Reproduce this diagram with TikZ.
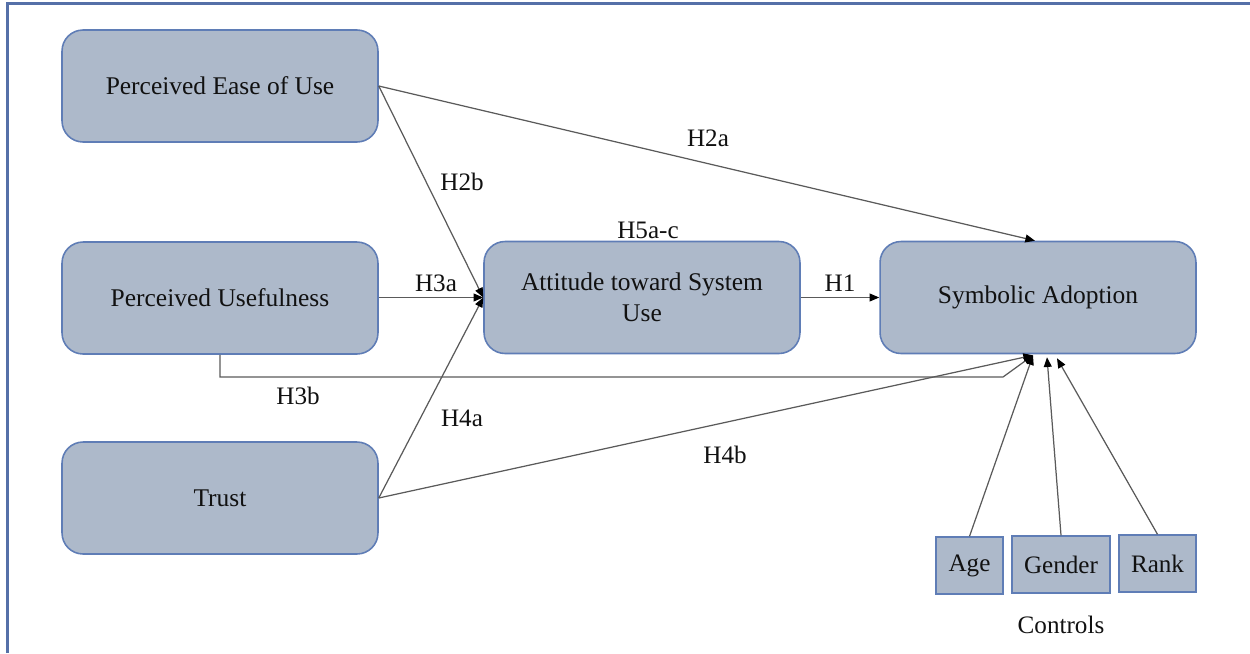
\documentclass[tikz,border=0pt]{standalone}
\usepackage{fontspec}
\setmainfont{Liberation Serif}
\newfontfamily\timesfont{Liberation Serif}
\usetikzlibrary{arrows.meta,calc}
\definecolor{boxfill}{HTML}{ADB9CA}
\definecolor{boxline}{HTML}{5F7DB6}
\definecolor{conn}{HTML}{5A5A5A}
\definecolor{txt}{HTML}{111111}
\definecolor{frame}{HTML}{5570A8}
\tikzset{
  bigbox/.style={draw=boxline, fill=boxfill, line width=0.9pt, rounded corners=0.42cm,
    minimum width=6.32cm, minimum height=2.24cm, align=center, text=txt,
    font=\timesfont\fontsize{14.5}{17.8}\selectfont},
  ctrlbox/.style={draw=boxline, fill=boxfill, line width=0.8pt,
    minimum height=1.14cm, inner sep=0pt, text=txt, font=\timesfont\fontsize{14.3}{17}\selectfont},
  lbl/.style={text=txt, font=\timesfont\fontsize{14.3}{17}\selectfont, inner sep=1pt},
  conn/.style={draw=conn, line width=0.7pt},
  arr/.style={conn, -{Triangle[length=5.5pt,width=4.5pt,color=black]}},
}
\begin{document}
\begin{tikzpicture}[x=0.02cm, y=-0.02cm]
\useasboundingbox (0,0) rectangle (1250,653);
% partial frame
\draw[frame, line width=1.2pt] (7.5,653) -- (7.5,3.5) -- (1250,3.5);

% main boxes
\node[bigbox] (peou) at (220,86) {Perceived Ease of Use};
\node[bigbox] (pu) at (220,298) {Perceived Usefulness};
\node[bigbox] (trust) at (220,498) {Trust};
\node[bigbox] (att) at (642,297.5) {Attitude toward System\\Use};
\node[bigbox] (sa) at (1038,297.5) {Symbolic Adoption};

% control boxes
\node[ctrlbox, minimum width=1.34cm] (age) at (969.5,565.5) {Age};
\node[ctrlbox, minimum width=1.96cm] (gender) at (1061,564.5) {Gender};
\node[ctrlbox, minimum width=1.54cm] (rank) at (1157.5,563.5) {Rank};
\node[lbl] (controls) at (1061,625) {Controls};

% arrival points on Symbolic Adoption
\coordinate (satop) at ($(sa.north)+(-3,0)$);
\coordinate (sab1) at ($(sa.south)+(-5,1)$);
\coordinate (sab2) at ($(sa.south)+(9,3)$);
\coordinate (sab3) at ($(sa.south)+(19,4)$);
\coordinate (h3bbend) at (1003,377);

% connectors
\draw[arr] (peou.east) -- (satop);
\draw[arr] (peou.east) -- (att.west);
\draw[arr] (pu.east |- att.west) -- (att.west);
\draw[arr] (trust.east) -- (att.west);
\draw[arr] (att.east) -- (sa.west);
\draw[arr] (pu.south) |- (h3bbend) -- (sab1);
\draw[arr] (trust.east) -- (sab1);
\draw[arr] (age.north) -- (sab1);
\draw[arr] (gender.north) -- (sab2);
\draw[arr] (rank.north) -- (sab3);

% labels
\node[lbl] (h2a) at (708,138) {H2a};
\node[lbl] (h2b) at (462,182) {H2b};
\node[lbl] (h5) at (648,230) {H5a-c};
\node[lbl] (h3a) at (436,283) {H3a};
\node[lbl] (h1) at (840,283) {H1};
\node[lbl] (h3b) at (298,396) {H3b};
\node[lbl] (h4a) at (462,418) {H4a};
\node[lbl] (h4b) at (725,455) {H4b};
\end{tikzpicture}
\end{document}
